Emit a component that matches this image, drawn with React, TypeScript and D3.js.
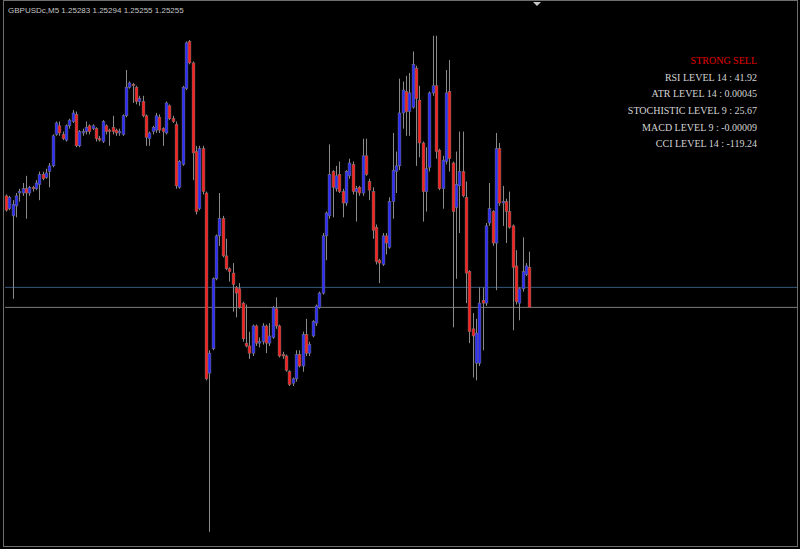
import React from 'react';
import * as d3 from 'd3';

// GBPUSDc M5 bars, oldest first
const opens = [
  1.25333, 1.25324, 1.25319, 1.25326, 1.25335, 1.25335, 1.25338, 1.25335, 1.25339, 1.25338,
  1.25341, 1.25348, 1.25346, 1.2535, 1.25354, 1.25376, 1.25382, 1.25376, 1.25372, 1.25382,
  1.25385, 1.2539, 1.25368, 1.25377, 1.25378, 1.25382, 1.2538, 1.2538, 1.25373, 1.25371,
  1.25382, 1.25379, 1.25381, 1.25379, 1.25377, 1.25376, 1.25389, 1.25409, 1.25411, 1.25409,
  1.25399, 1.25399, 1.25389, 1.25373, 1.25378, 1.25379, 1.25388, 1.2538, 1.25377, 1.25396,
  1.25387, 1.25383, 1.25339, 1.25355, 1.25408, 1.25441, 1.25426, 1.25364, 1.25324, 1.25366,
  1.25335, 1.25209, 1.25226, 1.25275, 1.25305, 1.25317, 1.25291, 1.25282, 1.25279, 1.25269,
  1.25268, 1.25258, 1.2523, 1.25228, 1.25223, 1.25242, 1.2523, 1.25231, 1.25242, 1.2523,
  1.25234, 1.25254, 1.25242, 1.25222, 1.25221, 1.2521, 1.25202, 1.25205, 1.25222, 1.25214,
  1.25236, 1.25223, 1.25235, 1.25244, 1.25255, 1.25265, 1.25305, 1.25319, 1.2535, 1.25338,
  1.25348, 1.25336, 1.25328, 1.25347, 1.25355, 1.25336, 1.25339, 1.25335, 1.25361, 1.25343,
  1.25336, 1.25311, 1.25288, 1.25285, 1.25305, 1.25297, 1.25329, 1.2535, 1.25354, 1.25391,
  1.25406, 1.25392, 1.25395, 1.25422, 1.254, 1.2537, 1.25336, 1.25353, 1.25405, 1.2541,
  1.25365, 1.25338, 1.25357, 1.25406, 1.25356, 1.25325, 1.2534, 1.2535, 1.25332, 1.2528,
  1.2524, 1.25216, 1.25216, 1.2526, 1.25258, 1.25314, 1.25322, 1.253, 1.25366, 1.25328,
  1.25329, 1.25322, 1.25312, 1.25284, 1.25258, 1.25268, 1.25278, 1.25283,
];
const highs = [
  1.25334, 1.25333, 1.2533, 1.25335, 1.25338, 1.25342, 1.25347, 1.2534, 1.2534, 1.25344,
  1.2535, 1.2535, 1.25352, 1.25356, 1.25376, 1.25385, 1.25385, 1.25378, 1.25383, 1.25387,
  1.25393, 1.25392, 1.25379, 1.2538, 1.25385, 1.25383, 1.25383, 1.25381, 1.25375, 1.25386,
  1.25383, 1.2538, 1.25389, 1.2538, 1.2538, 1.2539, 1.25421, 1.25413, 1.25412, 1.2541,
  1.25403, 1.25403, 1.2539, 1.25378, 1.25382, 1.25391, 1.2539, 1.25381, 1.25399, 1.25397,
  1.25389, 1.25385, 1.25358, 1.2541, 1.25441, 1.25442, 1.25427, 1.25368, 1.25368, 1.25368,
  1.25336, 1.25225, 1.25276, 1.25306, 1.25335, 1.25319, 1.25303, 1.25283, 1.25286, 1.2527,
  1.25272, 1.25259, 1.25257, 1.25238, 1.25243, 1.25243, 1.25234, 1.25244, 1.25243, 1.25244,
  1.25256, 1.25262, 1.25243, 1.25224, 1.25222, 1.25211, 1.25206, 1.25225, 1.25225, 1.25238,
  1.25247, 1.25231, 1.25246, 1.25257, 1.25266, 1.25307, 1.25322, 1.25369, 1.25351, 1.25354,
  1.25357, 1.25338, 1.25351, 1.25359, 1.25357, 1.2534, 1.2534, 1.25373, 1.25373, 1.25345,
  1.25339, 1.25313, 1.25289, 1.25307, 1.25307, 1.25332, 1.25377, 1.25364, 1.25415, 1.25413,
  1.25417, 1.25419, 1.25434, 1.25424, 1.2541, 1.25371, 1.25367, 1.25406, 1.25445, 1.25445,
  1.25366, 1.25361, 1.25421, 1.25428, 1.25357, 1.25364, 1.25378, 1.25378, 1.25343, 1.25281,
  1.25251, 1.25247, 1.25269, 1.25269, 1.25314, 1.25342, 1.25323, 1.25377, 1.2537, 1.2534,
  1.25331, 1.25336, 1.25313, 1.25295, 1.25269, 1.25304, 1.25286, 1.25294,
];
const lows = [
  1.25322, 1.25323, 1.25261, 1.25318, 1.25329, 1.25333, 1.25317, 1.25333, 1.25336, 1.25337,
  1.2533, 1.25344, 1.25345, 1.25339, 1.25353, 1.25375, 1.25375, 1.25372, 1.25371, 1.2538,
  1.25384, 1.25367, 1.25367, 1.25375, 1.25376, 1.25376, 1.25379, 1.25371, 1.25371, 1.2537,
  1.25376, 1.25368, 1.25376, 1.25375, 1.25375, 1.25375, 1.25388, 1.25408, 1.25398, 1.25397,
  1.25396, 1.25388, 1.25368, 1.25368, 1.25376, 1.25377, 1.25377, 1.25368, 1.25376, 1.25386,
  1.25384, 1.25338, 1.25338, 1.25354, 1.25407, 1.25425, 1.25344, 1.2532, 1.25323, 1.25334,
  1.25204, 1.25098, 1.25225, 1.25274, 1.25298, 1.2529, 1.25281, 1.25273, 1.25252, 1.25248,
  1.25254, 1.25231, 1.25227, 1.25219, 1.25221, 1.25228, 1.25227, 1.25229, 1.25223, 1.25228,
  1.25233, 1.2524, 1.2522, 1.25219, 1.2521, 1.252, 1.252, 1.25203, 1.25213, 1.2521,
  1.25221, 1.25221, 1.25234, 1.25242, 1.25254, 1.25264, 1.25288, 1.25317, 1.25318, 1.25336,
  1.25335, 1.25318, 1.25326, 1.25345, 1.25334, 1.25315, 1.25333, 1.25333, 1.25347, 1.2533,
  1.25303, 1.25285, 1.25272, 1.25284, 1.25292, 1.25296, 1.25317, 1.25335, 1.25351, 1.2538,
  1.25375, 1.25375, 1.25394, 1.25354, 1.2536, 1.25315, 1.25322, 1.2535, 1.25403, 1.25359,
  1.25337, 1.25324, 1.25355, 1.2535, 1.25241, 1.25275, 1.25307, 1.25332, 1.25258, 1.2523,
  1.25206, 1.25204, 1.25214, 1.25225, 1.25256, 1.25312, 1.25298, 1.25267, 1.25326, 1.25312,
  1.253, 1.2531, 1.25239, 1.25257, 1.25246, 1.25266, 1.25277, 1.25255,
];
const closes = [
  1.25323, 1.25332, 1.25327, 1.25333, 1.25336, 1.25338, 1.25335, 1.25339, 1.25338, 1.25342,
  1.25348, 1.25345, 1.25349, 1.25354, 1.25375, 1.25384, 1.25377, 1.25373, 1.25382, 1.25386,
  1.25391, 1.25368, 1.25378, 1.25378, 1.25381, 1.25378, 1.25382, 1.25373, 1.25372, 1.25385,
  1.25378, 1.25378, 1.25378, 1.25377, 1.25378, 1.25389, 1.25409, 1.25412, 1.2541, 1.25399,
  1.25401, 1.25389, 1.25374, 1.25377, 1.25381, 1.25389, 1.25379, 1.25378, 1.25398, 1.25387,
  1.25385, 1.2534, 1.25357, 1.25409, 1.2544, 1.25426, 1.25363, 1.25322, 1.25366, 1.25336,
  1.25205, 1.25223, 1.25275, 1.25305, 1.25317, 1.25291, 1.25282, 1.2528, 1.25271, 1.25265,
  1.25255, 1.25233, 1.25228, 1.25223, 1.25242, 1.2523, 1.25231, 1.25242, 1.2523, 1.25235,
  1.25255, 1.25242, 1.25221, 1.25221, 1.25211, 1.25201, 1.25205, 1.25222, 1.25214, 1.25236,
  1.25223, 1.25229, 1.25245, 1.25256, 1.25265, 1.25305, 1.25321, 1.25348, 1.25339, 1.25347,
  1.25336, 1.25328, 1.2535, 1.25356, 1.25336, 1.25338, 1.25335, 1.25361, 1.25348, 1.25337,
  1.25309, 1.25287, 1.25286, 1.25305, 1.253, 1.25329, 1.25351, 1.25354, 1.25391, 1.25407,
  1.25392, 1.25405, 1.25425, 1.25401, 1.2537, 1.25336, 1.25352, 1.25405, 1.2541, 1.25364,
  1.25338, 1.25358, 1.25405, 1.25359, 1.25322, 1.25341, 1.2535, 1.25333, 1.25279, 1.25238,
  1.25235, 1.25237, 1.25258, 1.25258, 1.25312, 1.25324, 1.253, 1.25366, 1.25328, 1.25329,
  1.25322, 1.25311, 1.25283, 1.25259, 1.25268, 1.2528, 1.25284, 1.25255,
];

const symbol = 'GBPUSDc,M5';
const askPrice = 1.25269;
const signal = 'STRONG SELL';
const indicatorNames = ['RSI LEVEL 14', 'ATR LEVEL 14', 'STOCHISTIC LEVEL 9', 'MACD LEVEL 9', 'CCI LEVEL 14'];
const indicatorValues = ['41.92', '0.00045', '25.67', '-0.00009', '-119.24'];

const W = 800;
const H = 549;
const BULL = '#2a2aff';
const BEAR = '#ff1c1c';
const WICK = '#8a8a8a';

export default function App() {
  const n = opens.length;
  const x = d3.scaleLinear().domain([0, n - 1]).range([6, 529.3]);
  const y = d3.scaleLinear().domain([1.25086, 1.2547]).range([H, 0]);
  const last = n - 1;
  const header = [opens[last], highs[last], lows[last], closes[last]].map((v) => v.toFixed(5)).join(' ');

  return (
    <svg
      width={W}
      height={H}
      style={{ position: 'absolute', left: 0, top: 0, background: '#000' }}
    >
      <rect x={0} y={0} width={W} height={H} fill="#000" />

      {/* ask and bid lines */}
      <line x1={5} x2={797} y1={y(askPrice)} y2={y(askPrice)} stroke="#36597e" strokeWidth={1} />
      <line x1={5} x2={797} y1={y(closes[last])} y2={y(closes[last])} stroke="#7c7c7c" strokeWidth={1} />

      {/* candles */}
      {opens.map((o, i) => {
        const c = closes[i];
        const cx = Math.round(x(i)) + 0.5;
        const top = y(Math.max(o, c));
        const bot = y(Math.min(o, c));
        const fill = c > o ? BULL : c < o ? BEAR : WICK;
        return (
          <g key={i}>
            <line x1={cx} x2={cx} y1={y(highs[i])} y2={y(lows[i])} stroke={WICK} strokeWidth={1} />
            <rect
              x={cx - 1.4}
              y={top}
              width={2.8}
              height={Math.max(bot - top, 1)}
              fill={fill}
              stroke="#7a7a7a"
              strokeWidth={0.5}
            />
          </g>
        );
      })}

      {/* frame */}
      <rect x={3.5} y={0.5} width={794} height={546} fill="none" stroke="#6e6e6e" strokeWidth={1} />
      <polygon points="533,2 541,2 537,6" fill="#c8c8c8" />

      <text x={8} y={13} fill="#c4c4c4" fontFamily="Liberation Sans, Arial, sans-serif" fontSize={8}>
        {symbol + '  ' + header}
      </text>

      <g fontFamily="Liberation Serif, 'Times New Roman', serif" fontSize={10} textAnchor="end">
        <text x={757} y={64} fill="#e00000">{signal}</text>
        {indicatorNames.map((name, k) => (
          <text key={name} x={757} y={80.5 + k * 16.7} fill="#d4d4d4">
            {name + ' : ' + indicatorValues[k]}
          </text>
        ))}
      </g>
    </svg>
  );
}
